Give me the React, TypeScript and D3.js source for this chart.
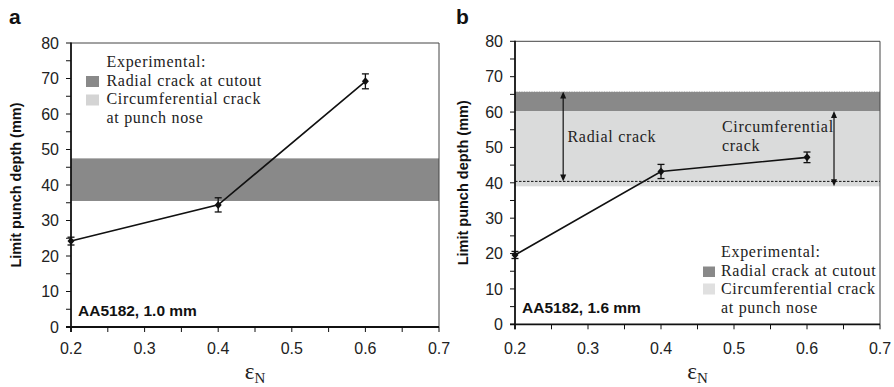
import React from 'react';
import * as d3 from 'd3';

const xTicks = [0.2, 0.3, 0.4, 0.5, 0.6, 0.7];
const xMinor = [0.25, 0.35, 0.45, 0.55, 0.65];
const yTicks = [0, 10, 20, 30, 40, 50, 60, 70, 80];
const yMinor = [5, 15, 25, 35, 45, 55, 65, 75];

const strain = [0.2, 0.4, 0.6];
const depthA = [24.2, 34.4, 69.2];
const errA = [1.1, 2.0, 2.1];
const depthB = [19.6, 43.2, 47.2];
const errB = [1.0, 2.0, 1.5];

const radialBandA = [35.5, 47.5];
const radialBandB = [60.3, 65.8];
const circBandB = [39.0, 60.3];
const radialLowB = 40.4;
const radialArrowX = 0.266;
const circArrowX = 0.637;

const DARK = '#898989';
const LIGHT = '#dadbdb';
const SANS = '"Liberation Sans", Arial, sans-serif';
const SERIF = '"Liberation Serif", "Times New Roman", serif';
const LFS = 16;
const LS = 0.7;

type PanelProps = {
  left: number; right: number; top: number; bottom: number;
  depth: number[]; err: number[]; offsetX: number;
  label: string; note: string; children: (x: any, y: any) => React.ReactNode;
};

function Panel({ left, right, top, bottom, depth, err, offsetX, label, note, children }: PanelProps) {
  const x = d3.scaleLinear().domain([0.2, 0.7]).range([left, right]);
  const y = d3.scaleLinear().domain([0, 80]).range([bottom, top]);
  const line = d3.line<number>().x((d, i) => x(strain[i])).y((d) => y(d));
  const tl = 5;
  return (
    <g>
      <text x={offsetX + 9} y={24} fontFamily={SANS} fontWeight="bold" fontSize={21} fill="#111">{label}</text>
      {children(x, y)}
      <line x1={left} x2={right} y1={top} y2={top} stroke="#444" strokeWidth={1} />
      <line x1={right} x2={right} y1={top} y2={bottom} stroke="#444" strokeWidth={1} />
      <line x1={left} x2={left} y1={top - 0.5} y2={bottom + tl} stroke="#111" strokeWidth={1.8} />
      <line x1={left - tl} x2={right} y1={bottom} y2={bottom} stroke="#111" strokeWidth={1.8} />
      {yTicks.concat(yMinor).map((t) => (
        <line key={'y' + t} x1={left - tl} x2={left} y1={y(t)} y2={y(t)} stroke="#111" strokeWidth={1} />
      ))}
      {xTicks.concat(xMinor).map((t) => (
        <line key={'x' + t} x1={x(t)} x2={x(t)} y1={bottom} y2={bottom + tl} stroke="#111" strokeWidth={1} />
      ))}
      {yTicks.map((t) => (
        <text key={'yl' + t} x={left - 12} y={y(t)} dy="0.36em" textAnchor="end" fontFamily={SANS} fontSize={16} fill="#222">{t}</text>
      ))}
      {xTicks.map((t) => (
        <text key={'xl' + t} x={x(t)} y={354} textAnchor="middle" fontFamily={SANS} fontSize={16} fill="#222">{t.toFixed(1)}</text>
      ))}
      <text transform={`translate(${offsetX + 21},${(top + bottom) / 2}) rotate(-90)`} textAnchor="middle" fontFamily={SANS} fontWeight="bold" fontSize={14.5} fill="#111">Limit punch depth (mm)</text>
      <text x={(left + right) / 2} y={379} textAnchor="middle" fontFamily={SERIF} fill="#222">
        <tspan fontSize={23}>ε</tspan><tspan fontSize={15} dy={4}>N</tspan>
      </text>
      <text x={left + 7} y={bottom - 11} fontFamily={SANS} fontWeight="bold" fontSize={15.5} fill="#111">{note}</text>
      <path d={line(depth) || ''} fill="none" stroke="#111" strokeWidth={1.6} />
      {depth.map((d, i) => (
        <g key={'e' + i}>
          <line x1={x(strain[i])} x2={x(strain[i])} y1={y(d - err[i])} y2={y(d + err[i])} stroke="#111" strokeWidth={1.3} />
          <line x1={x(strain[i]) - 3.5} x2={x(strain[i]) + 3.5} y1={y(d - err[i])} y2={y(d - err[i])} stroke="#111" strokeWidth={1.3} />
          <line x1={x(strain[i]) - 3.5} x2={x(strain[i]) + 3.5} y1={y(d + err[i])} y2={y(d + err[i])} stroke="#111" strokeWidth={1.3} />
          <path d={`M${x(strain[i])},${y(d) - 4}L${x(strain[i]) + 3.5},${y(d)}L${x(strain[i])},${y(d) + 4}L${x(strain[i]) - 3.5},${y(d)}Z`} fill="#111" />
        </g>
      ))}
    </g>
  );
}

function Arrow({ x, y1, y2 }: { x: number; y1: number; y2: number }) {
  const h = 7, w = 3;
  return (
    <g>
      <line x1={x} x2={x} y1={y1 + 3} y2={y2 - 3} stroke="#111" strokeWidth={1.2} />
      <path d={`M${x},${y1}L${x + w},${y1 + h}L${x - w},${y1 + h}Z`} fill="#111" />
      <path d={`M${x},${y2}L${x + w},${y2 - h}L${x - w},${y2 - h}Z`} fill="#111" />
    </g>
  );
}

function T({ x, y, children }: { x: number; y: number; children: React.ReactNode }) {
  return <text x={x} y={y} fontFamily={SERIF} fontSize={LFS} letterSpacing={LS} fill="#222">{children}</text>;
}

export default function App() {
  return (
    <div style={{ position: 'absolute', left: 0, top: 0 }}>
      <svg width={894} height={387} style={{ display: 'block', background: '#fff' }}>
        <Panel left={71} right={439} top={43} bottom={327} depth={depthA} err={errA} offsetX={0} label="a" note="AA5182, 1.0 mm">
          {(x, y) => (
            <g>
              <rect x={x(0.2)} width={x(0.7) - x(0.2)} y={y(radialBandA[1])} height={y(radialBandA[0]) - y(radialBandA[1])} fill={DARK} />
              <T x={106.5} y={67}>Experimental:</T>
              <rect x={86} y={76} width={13} height={11} fill={DARK} />
              <T x={106.5} y={85.5}>Radial crack at cutout</T>
              <rect x={86} y={94.5} width={13} height={11} fill="#d4d4d4" />
              <T x={106.5} y={104}>Circumferential crack</T>
              <T x={106.5} y={122.5}>at punch nose</T>
            </g>
          )}
        </Panel>
        <Panel left={515} right={880} top={41.3} bottom={324.3} depth={depthB} err={errB} offsetX={447} label="b" note="AA5182, 1.6 mm">
          {(x, y) => (
            <g>
              <rect x={x(0.2)} width={x(0.7) - x(0.2)} y={y(circBandB[1])} height={y(circBandB[0]) - y(circBandB[1])} fill={LIGHT} />
              <rect x={x(0.2)} width={x(0.7) - x(0.2)} y={y(radialBandB[1])} height={y(radialBandB[0]) - y(radialBandB[1])} fill={DARK} />
              <line x1={x(0.2)} x2={x(0.7)} y1={y(radialBandB[1])} y2={y(radialBandB[1])} stroke="#eee" strokeWidth={1} strokeDasharray="1.5,1" />
              <line x1={x(0.2)} x2={x(0.7)} y1={y(radialLowB)} y2={y(radialLowB)} stroke="#111" strokeWidth={1} strokeDasharray="2.5,1.5" />
              <Arrow x={x(radialArrowX)} y1={y(radialBandB[1])} y2={y(radialLowB)} />
              <Arrow x={x(circArrowX)} y1={y(circBandB[1])} y2={y(circBandB[0])} />
              <T x={567.5} y={142}>Radial crack</T>
              <T x={722} y={131.5}>Circumferential</T>
              <T x={722} y={150.5}>crack</T>
              <T x={721} y={257}>Experimental:</T>
              <rect x={703} y={266.5} width={12} height={10.5} fill={DARK} />
              <T x={721} y={275.5}>Radial crack at cutout</T>
              <rect x={703} y={283.5} width={12} height={11} fill="#e0e0e0" />
              <T x={721} y={294}>Circumferential crack</T>
              <T x={721} y={312.5}>at punch nose</T>
            </g>
          )}
        </Panel>
      </svg>
    </div>
  );
}
